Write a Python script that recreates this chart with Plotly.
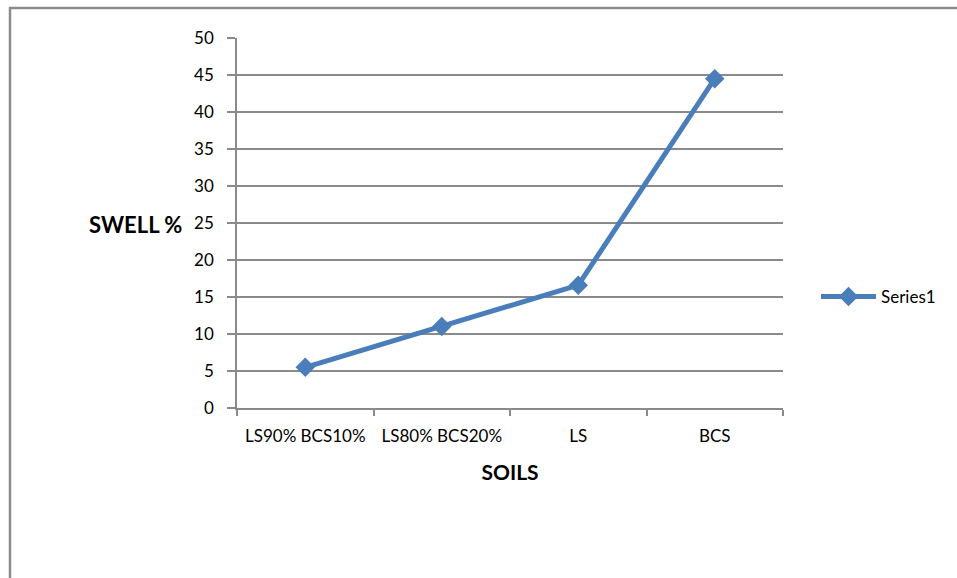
import plotly.graph_objects as go

# Swell percentage for each soil mix
soils = ["LS90% BCS10%", "LS80% BCS20%", "LS", "BCS"]
swell = [5.5, 11.0, 16.6, 44.5]
y_ticks = [0, 5, 10, 15, 20, 25, 30, 35, 40, 45, 50]

W, H = 957, 578
L, R, T, B = 237, 174, 38, 170
pw, ph = W - L - R, H - T - B

font_family = "Lato, 'Open Sans', sans-serif"
grid_col = "#8a8a8a"
line_col = "#4a7ebb"

fig = go.Figure()
fig.add_trace(go.Scatter(
    x=soils, y=swell, name="Series1", mode="lines+markers",
    line=dict(color=line_col, width=5),
    marker=dict(symbol="diamond", size=15, color=line_col),
))

def px_x(p):
    return (p - L) / pw

def px_y(p):
    return (H - B - p) / ph

# outer chart frame
fig.add_shape(type="rect", xref="paper", yref="paper",
              x0=px_x(10), x1=px_x(1000), y0=px_y(620), y1=px_y(8),
              line=dict(color="#8c8c8c", width=2.5), fillcolor="rgba(0,0,0,0)",
              layer="below")

fig.add_annotation(text="<b>SWELL %</b>", xref="paper", yref="paper",
                   x=px_x(184), y=px_y(224), xanchor="right", yanchor="middle",
                   showarrow=False, font=dict(family=font_family, size=22, color="#000"))

fig.update_layout(
    width=W, height=H,
    margin=dict(l=L, r=R, t=T, b=B, pad=0),
    paper_bgcolor="white", plot_bgcolor="white",
    font=dict(family=font_family, size=17, color="#000"),
    showlegend=True,
    legend=dict(x=px_x(816), y=px_y(297), xanchor="left", yanchor="middle",
                font=dict(size=17), bgcolor="rgba(0,0,0,0)", itemwidth=55),
    xaxis=dict(
        type="category", range=[-0.5, len(soils) - 0.5],
        tickson="boundaries", ticks="outside", ticklen=6,
        tickcolor=grid_col, tickwidth=1.5,
        showline=True, linecolor=grid_col, linewidth=1.5,
        showgrid=False, zeroline=False,
        tickfont=dict(size=17), ticklabelstandoff=12,
        title=dict(text="<b>SOILS</b>", font=dict(size=21), standoff=20),
    ),
    yaxis=dict(
        range=[0, 50], tickvals=y_ticks, ticks="outside", ticklen=8,
        tickcolor=grid_col, tickwidth=1.5,
        showline=True, linecolor=grid_col, linewidth=1.5,
        showgrid=True, gridcolor=grid_col, gridwidth=1.5,
        zeroline=False, tickfont=dict(size=17), ticklabelstandoff=10,
    ),
)

fig.write_html("out.html")
